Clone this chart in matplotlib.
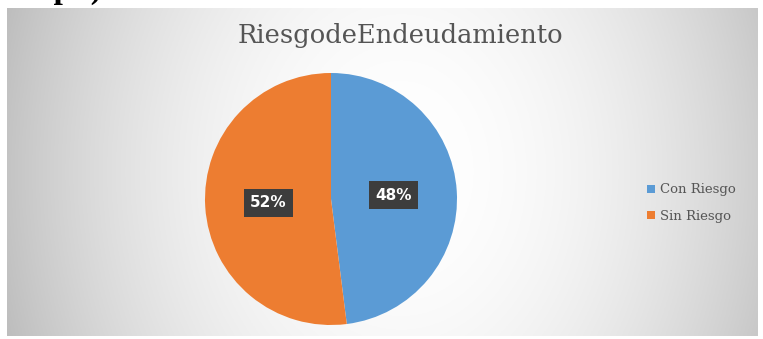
import numpy as np
import matplotlib.pyplot as plt
from matplotlib.patches import Patch

categorias = ['Con Riesgo', 'Sin Riesgo']
porcentajes = [48, 52]
colores = ['#5B9BD5', '#ED7D31']
titulo = 'RiesgodeEndeudamiento'

W, H = 763, 339
fig = plt.figure(figsize=(W / 100, H / 100), dpi=100)
fig.patch.set_facecolor('white')

# Chart area: white in the middle fading to light grey at the sides
box_l, box_r, box_t, box_b = 7, 757, 8, 336
bg = fig.add_axes([box_l / W, 1 - box_b / H, (box_r - box_l) / W, (box_b - box_t) / H])
gx = np.linspace(-1, 1, 400)
gy = np.linspace(-1, 1, 200)
X, Y = np.meshgrid(gx, gy)
d = np.sqrt((X - 0.05) ** 2 + 0.12 * Y ** 2)
shade = 1 - 0.21 * np.clip(d, 0, 1.2) ** 2.0
bg.imshow(np.dstack([shade] * 3), aspect='auto', extent=[0, 1, 0, 1], vmin=0, vmax=1)
bg.set_axis_off()

# Heading above the chart, mostly cut off by the top edge
fig.text(-0.005, 1 + 2 / H, 'Graph)', fontsize=24, fontweight='bold',
         family='Liberation Serif', ha='left', va='baseline', color='black')

fig.text(400 / W, 1 - 35 / H, titulo, fontsize=18.5, family='DejaVu Serif',
         color='#555555', ha='center', va='center')

# Pie
cx, cy, r = 331, 199, 126
ax = fig.add_axes([(cx - r) / W, 1 - (cy + r) / H, 2 * r / W, 2 * r / H])
wedges, _, autotexts = ax.pie(porcentajes, colors=colores, startangle=90, counterclock=False,
                              autopct='%d%%', pctdistance=0.5, radius=1,
                              wedgeprops=dict(linewidth=0))
for t in autotexts:
    t.set_color('white')
    t.set_fontsize(11)
    t.set_fontweight('bold')
    t.set_bbox(dict(facecolor='#3d3d3d', edgecolor='none', pad=4.5))
ax.set_xlim(-1, 1)
ax.set_ylim(-1, 1)
ax.set_aspect('auto')

handles = [Patch(facecolor=c, edgecolor='none') for c in colores]
fig.legend(handles, categorias, loc='center left', bbox_to_anchor=(635 / W, 1 - 203 / H),
           frameon=False, handlelength=0.6, handleheight=0.6, handletextpad=0.4,
           labelspacing=1.0, prop=dict(family='DejaVu Serif', size=9.5), labelcolor='#555555')

fig.savefig('out.png', dpi=100)
